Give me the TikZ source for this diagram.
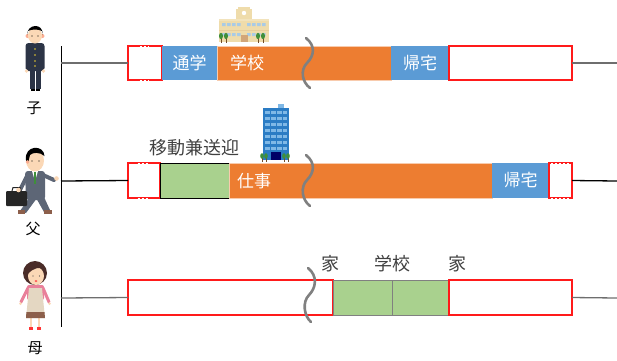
\documentclass[tikz,border=0pt]{standalone}
\usepackage{fontspec}
\newfontfamily\jp{Noto Sans CJK JP}
\usetikzlibrary{calc}
\definecolor{segblue}{HTML}{5B9BD5}
\definecolor{segorange}{HTML}{ED7D31}
\definecolor{seggreen}{HTML}{A9D18E}
\definecolor{segred}{HTML}{FF1A1A}
\definecolor{peach}{HTML}{F8CBAD}
\definecolor{wave}{HTML}{808080}
\definecolor{linegray}{HTML}{6E6E6E}
\definecolor{labelgray}{HTML}{404040}
\definecolor{skin}{HTML}{FBD8B6}
\definecolor{navy}{HTML}{2C3446}
\definecolor{suit}{HTML}{5D6676}
\definecolor{hairbrown}{HTML}{4A2C28}
\definecolor{pinkshirt}{HTML}{E9809A}
\definecolor{apron}{HTML}{E4D7C2}
\definecolor{hem}{HTML}{8C5F4B}
\definecolor{beige}{HTML}{EFDCAB}
\definecolor{winblue}{HTML}{A9CBE6}
\definecolor{tree}{HTML}{3F8F3A}
\definecolor{office}{HTML}{2B7CC4}
\definecolor{officelight}{HTML}{7FB8E6}
\tikzset{
  seg/.style={rectangle, inner sep=0pt, outer sep=0pt, anchor=north west,
    font=\jp\fontsize{17}{17}\selectfont, text=white},
  redbox/.style={seg, draw=segred, line width=1.4pt, fill=white},
  bluebox/.style={seg, fill=segblue},
  orangebox/.style={seg, fill=segorange, draw=peach, line width=0.8pt},
  greenbox/.style={seg, fill=seggreen, draw=#1, line width=1pt},
  bartext/.style={font=\jp\fontsize{17}{17}\selectfont, text=white, inner sep=0pt},
  tag/.style={font=\jp\fontsize{18}{18}\selectfont, text=labelgray, inner sep=0pt},
  who/.style={font=\jp\fontsize{15}{15}\selectfont, inner sep=0pt},
  link/.style={line width=1.3pt, draw=#1},
  breakmark/.style={draw=wave, line width=2.6pt, line cap=round},
  whitedash/.style={draw=white, line width=0.6pt, dash pattern=on 2pt off 2pt}
}
\begin{document}
\begin{tikzpicture}[x=1pt, y=-1pt]
\useasboundingbox (0,0) rectangle (617,360);

% ---- time axis ----
\coordinate (axtop) at (61,46);
\coordinate (axbot) at (61,327);
\draw[line width=1pt] (axtop) -- (axbot);

% ---- row: child ----
\node[redbox, minimum width=34pt, minimum height=34pt] (k0) at (128,46) {};
\node[bluebox, minimum width=55pt, minimum height=34pt] (k1) at (162,46) {通学};
\node[orangebox, minimum width=174pt, minimum height=34pt] (k2) at (217,46) {};
\node[bluebox, minimum width=58pt, minimum height=34pt] (k3) at (391,46) {帰宅};
\node[redbox, minimum width=123pt, minimum height=34pt] (k4) at (449,46) {};
\node[bartext] (k2t) at (247,63) {学校};
\draw[whitedash] ($(k0.north west)!0.35!(k0.north east)$) -- ($(k0.north west)!0.62!(k0.north east)$);
\draw[whitedash] ($(k0.south west)!0.35!(k0.south east)$) -- ($(k0.south west)!0.62!(k0.south east)$);
\coordinate (k-in) at (61,63);
\coordinate (k-out) at (617,63);
\draw[link=linegray] (k-in) -- (k0.west);
\draw[link=linegray] (k4.east) -- (k-out);
\draw[breakmark] (306,38) .. controls (316,46) and (314,56) .. (307,63) .. controls (300,70) and (302,82) .. (310,88);

% ---- row: father ----
\node[redbox, minimum width=32pt, minimum height=35pt] (f0) at (128,163) {};
\node[greenbox=black, minimum width=69pt, minimum height=35pt] (f1) at (160,163) {};
\node[orangebox, minimum width=263pt, minimum height=35pt] (f2) at (229,163) {};
\node[bluebox, minimum width=57pt, minimum height=35pt] (f3) at (492,163) {帰宅};
\node[redbox, minimum width=23pt, minimum height=35pt] (f4) at (549,163) {};
\node[bartext] (f2t) at (254,181) {仕事};
\node[tag] (f1t) at (194,148) {移動兼送迎};
\draw[whitedash] ($(f0.north west)!0.3!(f0.north east)$) -- ($(f0.north west)!0.62!(f0.north east)$);
\draw[whitedash] ($(f0.south west)!0.3!(f0.south east)$) -- ($(f0.south west)!0.62!(f0.south east)$);
\draw[whitedash] ($(f4.north west)!0.1!(f4.north east)$) -- ($(f4.north west)!0.85!(f4.north east)$);
\draw[whitedash] ($(f4.south west)!0.1!(f4.south east)$) -- ($(f4.south west)!0.85!(f4.south east)$);
\coordinate (f-in) at (61,181);
\coordinate (f-out) at (617,181);
\draw[link=black] (f-in) -- (f0.west);
\draw[link=black] (f4.east) -- (f-out);
\draw[breakmark] (306,155) .. controls (316,163) and (314,173) .. (307,180) .. controls (300,187) and (302,200) .. (310,206);

% ---- row: mother ----
\node[redbox, minimum width=205pt, minimum height=35pt] (m0) at (128,280) {};
\node[greenbox=gray, minimum width=59pt, minimum height=35pt] (m1) at (333,280) {};
\node[greenbox=gray, minimum width=57pt, minimum height=35pt] (m2) at (392,280) {};
\node[redbox, minimum width=123pt, minimum height=35pt] (m3) at (449,280) {};
\node[tag] (m1t) at (330,264) {家};
\node[tag] (m2t) at (392,264) {学校};
\node[tag] (m3t) at (457,264) {家};
\coordinate (m-in) at (61,298);
\coordinate (m-out) at (617,298);
\draw[link=linegray] (m-in) -- (m0.west);
\draw[link=linegray] (m3.east) -- (m-out);
\draw[breakmark] (308,268) .. controls (318,276) and (316,288) .. (309,295) .. controls (302,302) and (304,316) .. (311,322);

% ---- names ----
\node[who] (nk) at (34,108) {子};
\node[who] (nf) at (33,229) {父};
\node[who] (nm) at (35,348) {母};

% ---- child figure ----
\fill[black] (30.5,88) rectangle (34.5,90.5);
\fill[black] (35.5,88) rectangle (39.5,90.5);
\fill[navy] (29.5,68) rectangle (40.5,88.5);
\draw[white, line width=0.6pt] (35,71) -- (35,89);
\fill[navy, rounded corners=3pt] (25.5,43) rectangle (44.5,71);
\fill[skin] (26.5,71) circle (1.8);
\fill[skin] (43.5,71) circle (1.8);
\foreach \by in {49,55,61,66} \fill[yellow!60!brown] (35,\by) circle (0.9);
\fill[skin!80!red] (27.5,36) circle (2);
\fill[skin!80!red] (42.5,36) circle (2);
\fill[skin] (35,35.5) ellipse (7 and 8);
\fill[black] (27.5,35) .. controls (26,24) and (44,22) .. (42.5,35) -- (42,31) .. controls (38,29) and (32,29) .. (28,31) -- cycle;
\fill[black] (32,36) circle (0.6) (38,36) circle (0.6);

% ---- father figure ----
\fill[suit] (29,198) -- (37,198) -- (26,213) -- (20,211) -- cycle;
\fill[suit] (35,196) -- (44,197) -- (50,210) -- (44,212) -- cycle;
\fill[hem] (18,210) rectangle (25,214);
\fill[hem] (44,210) rectangle (52,214);
\fill[suit, rounded corners=3pt] (25,171) -- (45,171) -- (45,200) -- (26,200) -- cycle;
\draw[suit, line width=4pt, line cap=round] (43,175) -- (54,180);
\fill[skin] (56.5,178.5) circle (2.3);
\draw[suit, line width=4pt, line cap=round] (27,176) -- (20,190);
\fill[white] (32,171) -- (38,171) -- (35,181) -- cycle;
\fill[tree] (34.3,172) rectangle (35.7,184);
\fill[black!85, rounded corners=1pt] (6,191) rectangle (27,206);
\draw[black!85, line width=1pt] (12,191) -- (13,187.5) -- (20,187.5) -- (21,191);
\fill[skin] (18.5,190) circle (2.3);
\fill[skin] (35,160.5) ellipse (9 and 11);
\fill[black] (26,160) .. controls (24,145) and (44,144) .. (44.5,156) .. controls (40,152) and (33,152) .. (30,155) -- (28,163) -- cycle;
\fill[black] (32,161) circle (0.6) (39,161) circle (0.6);
\fill[skin!80!red] (27.5,162) circle (1.8);

% ---- mother figure ----
\fill[red!80] (29,327) rectangle (33,329.5);
\fill[red!80] (37,327) rectangle (41,329.5);
\draw[skin, line width=1.4pt] (31,317) -- (31,327) (39,317) -- (39,327);
\draw[pinkshirt, line width=3pt, line cap=round] (28,288) -- (21,302);
\draw[pinkshirt, line width=3pt, line cap=round] (43,288) -- (49,302);
\fill[skin] (20.5,303.5) circle (1.5);
\fill[skin] (49.5,303.5) circle (1.5);
\fill[pinkshirt, rounded corners=2pt] (27,285) rectangle (44,300);
\fill[apron] (29,288) -- (42,288) -- (45,318) -- (26,318) -- cycle;
\fill[hem] (26.4,312) -- (44.5,312) -- (45,318) -- (26,318) -- cycle;
\fill[hairbrown] (35,273) circle (12);
\fill[skin] (36,276) ellipse (8 and 9);
\fill[hairbrown] (27,270) .. controls (30,262) and (42,262) .. (45,270) .. controls (40,266) and (33,268) .. (28,274) -- cycle;
\fill[black!70] (33,276) circle (0.7) (39.5,276) circle (0.7);
\fill[red!70] (36,281) ellipse (1.5 and 1);

% ---- school building ----
\fill[beige] (219,19) rectangle (269,42);
\fill[beige!80!white] (219,19) rectangle (269,21);
\fill[beige] (236,9) rectangle (252,19);
\fill[beige] (238,7) rectangle (250,9);
\fill[white] (244,13) circle (2.2);
\fill[beige!85!brown] (219,29.5) rectangle (269,30.5);
\foreach \wx in {222,227,232,237,247,252,257,262}
  \fill[winblue] (\wx,23) rectangle ++(3.5,3) (\wx,33) rectangle ++(3.5,3);
\fill[brown!70] (240.5,35) rectangle (247.5,42);
\foreach \tx in {221,226,258,263}{
  \draw[brown!60!black, line width=0.6pt] (\tx,37) -- (\tx,43);
  \fill[tree] (\tx,36) ellipse (2 and 3.2);
}

% ---- office building ----
\fill[officelight] (278,104) rectangle (284,108);
\fill[office] (263,108) rectangle (289,160);
\foreach \wy in {111,117,123,129,135,141,147}
  \fill[officelight] (265,\wy) rectangle (287,\wy+2.5);
\foreach \wx in {270,276,282}
  \fill[office] (\wx,108) rectangle ++(0.8,44);
\fill[blue!40!black] (271,152) rectangle (281,160);
\foreach \tx in {262,266,284,288}{
  \draw[brown!60!black, line width=0.6pt] (\tx,157) -- (\tx,162);
  \fill[tree] (\tx,156) ellipse (1.8 and 2.8);
}
\end{tikzpicture}
\end{document}
